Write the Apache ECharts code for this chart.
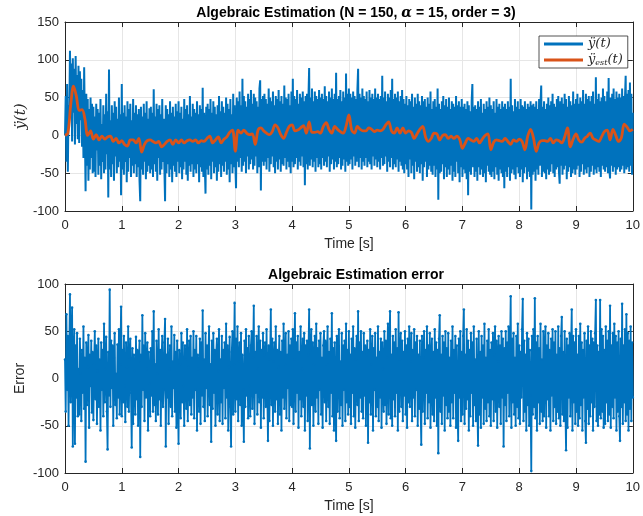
<!DOCTYPE html>
<html>
<head>
<meta charset="utf-8">
<script src="https://cdn.jsdelivr.net/npm/echarts@6/dist/echarts.min.js"></script>
<style>
  html, body { margin: 0; padding: 0; background: #fff; }
  #chart { width: 643px; height: 516px; }
</style>
</head>
<body>
<div id="chart"></div>
<script>
// Sampling of the stored signals [s]
const dtMeasured = 0.0125;
const dtEstimate = 0.05;

// Tick values
const timeTicks = [0, 1, 2, 3, 4, 5, 6, 7, 8, 9, 10];
const accelTicks = [-100, -50, 0, 50, 100, 150];
const errorTicks = [-100, -50, 0, 50, 100];

// Measured second derivative (noisy), t = 0 .. 10 s, one row per 0.25 s
const yMeasured = [
  0, 52, -35, 68, -48, 40, 20, 112, 35, 95, -8, 102, 30, 88, -12, 105, 15, 80, -5, 92,
  -10, 85, 20, 75, -15, 60, -30, 90, 10, -74, 55, -40, 48, -60, 35, -45, 50, -30, 42, -50,
  38, -48, 25, -55, 42, -20, 35, -52, 30, -40, 48, -58, 15, -35, 40, -50, 28, -45, 55, -25,
  32, -82, 87, -45, 20, -55, 40, -38, 30, -60, 45, -28, 38, -50, 22, -42, 50, -35, 28, -79,
  68, -45, 30, -52, 40, -35, 25, -62, 45, -48, 35, -30, 42, -55, 20, -40, 48, -50, 30, -38,
  40, -55, 28, -42, 35, -60, -87, 38, -45, 25, -52, 42, -35, 30, -58, 45, -48, 22, -40, 36,
  -50, 38, -45, 30, -55, 61, -38, 25, -48, 42, -60, 35, -30, 40, -52, 28, -45, 48, -35, 22,
  -42, -87, 40, -50, 35, -38, 28, -55, 45, -45, 30, -62, 38, -40, 25, -48, 42, -55, 32, -35,
  45, -50, 30, -42, 38, -58, 22, -45, 48, -35, 35, -52, 40, -60, 28, -40, 52, -48, 25, -38,
  42, -55, 35, -45, 30, -50, 45, -38, 28, -62, 40, -42, 35, -48, 63, -55, 30, -40, -77, 38,
  -45, 42, -52, 35, -40, 48, -58, 30, -35, 45, -50, 38, -42, 28, -60, 40, -48, 52, -38, 32,
  -55, 45, -40, 38, -48, 30, -35, 50, -52, 42, -45, 35, -62, 48, -38, 28, -50, 55, -42, 40,
  -38, -70, 50, -35, 45, -42, 58, -30, 40, -48, 75, -40, 52, -35, 45, -50, 38, -28, 55, -45,
  48, -38, 60, -32, 42, -45, 55, -40, 50, -28, 45, -50, 38, -42, 62, 73, -73, 48, -35, 52,
  -40, 55, -35, 48, -45, 42, -30, 62, -48, 50, -38, 45, -28, 58, -42, 40, -50, 52, -35, 48,
  -45, 60, -32, 45, -48, 52, -38, 42, -40, 66, -30, 50, -45, 48, -35, 55, -42, 40, -50, 58,
  -35, 75, -42, 52, -38, 48, -30, 60, -45, 42, -35, 55, -40, 50, -28, 58, -42, 45, -66, 52,
  -38, 55, -45, 48, 89, -40, 50, -32, 62, -42, 45, -35, 58, -48, 52, -30, 48, -42, 60, -38,
  50, -45, 55, -30, 48, -40, 65, -35, 52, -42, 45, -28, 58, -48, 50, -38, 62, -32, 48, -45,
  55, -35, 83, -42, 48, -38, 52, -30, 60, -45, 45, -40, 58, -32, 50, -48, 82, -35, 55, -40,
  62, -38, 55, -32, 50, -45, 58, -28, 52, -40, 48, -35, 60, 88, -42, 55, -30, 50, -45, 62,
  -35, 52, -40, 48, -30, 58, -42, 45, -35, 60, -38, 50, -45, 55, -28, 48, -40, 62, -32, 50,
  -42, 55, -35, 48, -45, 52, -30, 79, -40, 50, -38, 58, -28, 45, -48, 55, -35, 50, -42, 60,
  -30, 75, -45, 48, -38, 55, -42, 50, -32, 58, -48, 45, -35, 52, -40, 60, -45, 48, -50, 42,
  -38, 52, -45, 40, -55, 48, -32, 45, -50, 55, -40, 38, -58, 50, -35, 42, -48, 55, -42, 45,
  -50, 40, -38, 52, -60, 45, -42, 48, -35, 38, -55, 50, -45, 42, -40, 58, -48, 35, -52, 45,
  -40, 48, -55, 38, -45, 62, -85, 42, -50, 35, -48, 45, -38, 52, -58, 40, -42, 48, -55, 38,
  -45, 50, -52, 35, -40, 45, -60, 42, -48, 38, -55, 52, -35, 40, -50, 45, -62, 38, -42, 48,
  -55, 38, -45, 42, -50, 35, -58, 45, -79, 40, -48, 32, -52, 45, 68, -42, 38, -55, 40, -48,
  35, -60, 45, -42, 38, -52, 48, -45, 30, -55, 42, -50, 35, -62, 45, -40, 38, -48, 50, -52,
  40, -55, 35, -48, 45, -58, 30, -42, 48, -52, 38, -60, 42, -45, 35, -50, 45, -55, 38, -70,
  42, -48, 35, -55, 45, -42, 38, -60, 75, -50, 40, -45, 32, -52, 48, -58, 38, -42, 45, -50,
  35, -55, 48, -45, 40, -62, 38, -50, 45, -42, 35, -58, 42, -48, 38, -55, 45, -98, 40, -52,
  42, -48, 38, -60, 45, -45, 35, -52, 48, -40, 42, 66, -55, 38, -48, 45, -50, 35, -58, 42,
  -45, 50, -52, 40, -48, 45, -38, 55, -50, 42, -55, 38, -45, 48, -42, 52, -48, -64, 45, -40,
  50, -52, 42, -45, 55, -40, 48, -58, 38, -48, 52, -42, 45, -55, 40, -50, 58, -45, 42, -52,
  48, -45, 55, -40, 42, -55, 50, -48, 45, -38, 60, -52, 42, -45, 55, -50, 48, -42, 52, -55,
  45, -48, 52, -40, 58, -52, 42, -45, 77, -50, 48, -42, 55, -48, 45, -55, 50, -40, 62, -45,
  52, -48, 45, -42, 58, -50, 76, -45, -57, 50, -40, 55, -48, 62, -42, 48, -52, 58, -45, 50,
  -42, 55, -48, 50, -45, 62, -40, 52, -50, 48, 79, -45, 55, -42, 60, -48, 70, -40, 55, -52,
  30
];

// Algebraic estimate, t = 0 .. 10 s
const yEstimate = [
  0, 3, 40, 65, 52, 33, 34, 22, 0, 6,
  -5, 1, -6, -1, -5, -2, -1, -8, -4, -10,
  -7, -12, -14, -6, -6, -10, -4, -22, -12, -7,
  -6, -8, -10, -8, -15, -12, -8, -6, -12, -6,
  -10, -6, -10, -7, -6, -8, -6, -10, -7, -8,
  -4, -1, -10, -6, -2, -10, -5, -2, 4, 7,
  -21, 7, 3, 7, 3, 1, 2, -12, 7, 10,
  6, 3, 1, 5, 14, 10, 1, -4, 4, 12,
  14, 6, 7, 10, 13, 3, 18, 4, 4, 5,
  3, 12, 17, 8, 3, 12, 8, 5, 3, 12,
  27, 7, 3, 12, 8, 6, 6, 10, 8, 5,
  7, 6, 8, 14, 18, 6, 3, 10, 3, 10,
  3, 6, 4, -4, 2, 8, 12, -2, -8, -4,
  3, 2, -6, 0, 1, -4, -1, -4, -1, -5,
  -17, -10, -4, -6, -8, -4, -10, -5, 0, 2,
  -19, -9, -6, -7, -8, -4, -8, -12, -6, -8,
  -5, -8, -19, -1, 8, -3, -21, -10, -7, -7,
  -8, -4, -10, -6, -7, -10, -2, 10, -15, -5,
  2, -6, -9, -4, -1, 3, -4, -6, -8, -2,
  5, 7, -6, 8, 0, -8, -3, 15, 11, 6,
  8
];

// Estimation error, t = 0 .. 10 s, one row per 0.25 s
const estError = [
  20, -35, 68, -12, 45, -50, 30, 89, -25, 40, 75, -72, 18, 52, -69, 35, -20, 48, -40, 10,
  -38, 42, 5, -45, 30, -15, 55, -32, 22, -88, 38, -28, 12, 46, -52, 25, -8, 40, -36, 28,
  -44, 15, 50, -22, 35, -48, 8, 42, -30, 20, -55, 38, -12, 30, -40, 58, -25, 10, 44, -35,
  -75, 28, -18, 94, -30, 40, -10, 35, -50, 22, 48, -28, 5, -42, 36, -20, 52, -38, 15, 76,
  -40, 30, -25, 45, -8, -46, 38, 12, -30, 55, -35, 20, 42, -15, -73, 32, -48, 25, 8, -38,
  44, -22, 30, -50, 18, 40, -83, 25, -30, 67, -12, 35, -45, 48, -20, 10, 38, -55, 28, -5,
  -40, 32, -18, 50, -35, 71, -28, 15, -45, 40, 5, -38, 52, -22, 30, -50, 20, 45, -30, -12,
  38, 63, -72, 25, -20, 42, -48, 10, 35, -30, 55, -40, 18, -10, 46, -35, 28, -52, 40, -15,
  -69, 30, 15, -42, 48, -25, 38, -8, -50, 35, 20, -32, 52, -45, 12, 40, -28, 45, -38, 22,
  -20, 50, -42, 30, -12, 45, -55, 25, 10, -35, 42, -48, 38, -18, 72, -30, 20, -45, 48, -10,
  35, -40, 22, 55, -28, 15, -67, 40, -32, 48, -15, 30, -50, 25, 42, -38, 8, 52, -45, 20,
  -25, 45, -48, 30, -10, 38, -42, 58, -20, 35, -55, 12, 44, -30, -72, 28, 50, -38, 15, 80,
  -35, 42, -22, 55, -45, 18, 38, -28, 48, -50, 25, -12, -67, 40, -30, 52, -18, 32, -42, 45,
  -8, -40, 35, 50, -32, 22, 77, -48, 28, -15, 45, -38, 10, 55, -25, 40, -52, 30, -20, 48,
  -42, 25, 38, -30, 52, -15, -66, 35, -45, 20, 73, -28, 42, -50, 18, 38, -35, 55, -22, 30,
  -48, 12, 45, -38, 28, -55, 40, -20, 58, -32, 15, 48, -42, 25, -10, 50, -45, 35, -28, 42,
  -30, 52, -48, 20, 69, -35, 38, -15, 45, -52, 28, -22, 55, -40, 10, 42, -30, 48, -55, 35,
  -18, 40, -45, 25, 73, -74, 30, 52, -28, 38, -50, 15, 45, -35, 58, -20, 32, -48, 40, -12,
  48, -38, 22, -52, 35, 50, -25, 40, -45, 15, 55, -30, 28, -48, 42, -15, 69, -40, 32, -55,
  38, -22, -66, 45, -35, 28, 52, -42, 18, -28, 48, -50, 35, -12, 40, -45, 58, -25, 30, -38,
  50, -30, 25, -48, 42, -15, 55, -40, 32, -52, 20, 45, -28, 71, -45, 38, -20, 50, -35, 28,
  -42, 48, -18, 35, -50, 25, 40, -68, 30, -25, 52, -38, 15, 45, -55, 32, -12, 48, -40, 22,
  -30, 55, -45, 28, -20, 42, -52, 38, 10, -35, 50, -28, 40, -48, 22, 58, -38, 30, 71, -42,
  25, -50, 45, -22, 38, -40, 52, -15, 32, -55, 70, -35, 20, 48, -30, 40, -45, 28, -18, 50,
  -38, 35, -52, 42, -25, 55, -30, 18, 48, -45, 30, -20, 52, -40, 38, -12, 45, -50, 25, -32,
  40, -28, -70, 45, -35, 22, 50, -48, 30, -15, 55, -42, 35, -25, 48, -52, 20, 42, -38, 28,
  -45, 52, -20, 38, -50, 30, -79, 42, 67, -35, 25, -48, 45, -18, 38, -55, 50, -28, 32, -42,
  48, -35, 22, -50, 40, -25, 55, -42, 30, -15, 45, -52, 35, -30, -66, 42, -20, 50, -45, 28,
  -38, 45, 73, -48, 25, -32, 52, -22, 40, -55, 30, -40, 48, -15, 38, -50, 55, -28, 20, -45,
  42, -30, -71, 50, -38, 28, -52, 45, -20, 35, -48, 58, -32, 22, -45, 40, -25, 52, -40, 30,
  -50, 38, -22, 48, -45, 25, 55, -35, 40, -52, 18, 45, -30, 35, -48, 50, -20, 42, -72, 32,
  -28, 50, -45, 38, -15, 55, -40, 30, 87, -52, 42, -25, 48, -38, 22, -50, 45, -30, 58, -42,
  35, -48, 28, -20, 52, 84, -45, 40, -35, 25, -55, 48, -28, 42, -50, 30, -18, -98, 45, -38,
  52, -30, 85, -42, 38, -55, 45, -25, 32, -48, 58, -35, 20, -45, 50, -40, 28, 55, -52, 35,
  -22, 48, -40, 30, -55, 42, -18, 52, -45, 38, -30, 50, -48, 25, -35, 55, -42, 32, -50, 45,
  65, -38, 28, -45, 50, -30, -76, 42, -52, 35, -20, 48, -40, 30, 73, -55, 45, -25, 38, -48,
  52, -35, 25, -50, 45, -42, 58, -28, 38, -55, 30, -20, 48, -45, -68, 40, -32, 55, -48, 35,
  -40, 50, -25, 42, -55, 38, -30, 48, 83, -45, 35, -50, 28, -38, 83, -42, 52, -35, 45, -52,
  30, -48, 55, -25, 40, -45, 50, -38, 77, -52, 35, -30, 48, -42, 58, -20, 45, -55, 38, -35,
  50, -40, -66, 42, -30, 79, -48, 35, -25, 52, -45, 68, -38, 48, -55, 40, -32, 55, -45, 38,
  -20
];

const toPairs = (values, dt) => values.map((v, i) => [+(i * dt).toFixed(4), v]);

const BLUE = '#0072BD';
const ORANGE = '#D95319';
const AXIS = '#262626';
const GRID = '#e6e6e6';
const SANS = '"Liberation Sans", Arial, Helvetica, sans-serif';
const SERIF = '"DejaVu Serif", "Liberation Serif", serif';

// Main axis with labels plus a mirrored axis so the plot box is closed with inward ticks
function axisPair(kind, gridIndex, ticks, nameCfg) {
  const min = ticks[0], max = ticks[ticks.length - 1], interval = ticks[1] - ticks[0];
  const main = {
    type: 'value', gridIndex, min, max, interval,
    position: kind === 'x' ? 'bottom' : 'left',
    nameMoveOverlap: false,
    axisLine: { show: true, onZero: false, lineStyle: { color: AXIS, width: 1 } },
    axisTick: { show: true, inside: true, length: 5, lineStyle: { color: AXIS } },
    axisLabel: { color: AXIS, fontSize: 13, fontFamily: SANS, margin: kind === 'x' ? 8 : 6 },
    splitLine: { show: true, lineStyle: { color: GRID, width: 1 } }
  };
  Object.assign(main, nameCfg || {});
  const mirror = {
    type: 'value', gridIndex, min, max, interval,
    position: kind === 'x' ? 'top' : 'right',
    axisLine: { show: true, onZero: false, lineStyle: { color: AXIS, width: 1 } },
    axisTick: { show: true, inside: true, length: 5, lineStyle: { color: AXIS } },
    axisLabel: { show: false },
    splitLine: { show: false }
  };
  return [main, mirror];
}

const timeName = {
  name: 'Time [s]', nameLocation: 'middle', nameGap: 26,
  nameTextStyle: { color: AXIS, fontSize: 14, fontFamily: SANS }
};

const option = {
  animation: false,
  backgroundColor: '#fff',
  title: [
    {
      text: '{b|Algebraic Estimation (N = 150, }{a|α}{b| = 15, order = 3)}',
      left: 351, top: 1, textAlign: 'center',
      textStyle: {
        rich: {
          b: { fontWeight: 'bold', fontSize: 14, fontFamily: SANS, color: '#000' },
          a: { fontWeight: 'bold', fontStyle: 'italic', fontSize: 14, fontFamily: SERIF, color: '#000' }
        }
      }
    },
    {
      text: 'Algebraic Estimation error',
      left: 351, top: 263, textAlign: 'center',
      textStyle: { fontWeight: 'bold', fontSize: 14, fontFamily: SANS, color: '#000' }
    }
  ],
  grid: [
    { left: 65, right: 5, top: 22, height: 189 },
    { left: 65, right: 5, top: 284, height: 189 }
  ],
  xAxis: [
    ...axisPair('x', 0, timeTicks, timeName),
    ...axisPair('x', 1, timeTicks, timeName)
  ],
  yAxis: [
    ...axisPair('y', 0, accelTicks, {
      name: 'ÿ(t)', nameLocation: 'middle', nameGap: 36, nameRotate: 90,
      nameTextStyle: { color: AXIS, fontSize: 15, fontFamily: SERIF, fontStyle: 'italic' }
    }),
    ...axisPair('y', 1, errorTicks, {
      name: 'Error', nameLocation: 'middle', nameGap: 38, nameRotate: 90,
      nameTextStyle: { color: AXIS, fontSize: 14, fontFamily: SANS }
    })
  ],
  legend: {
    data: ['meas', 'est'],
    orient: 'vertical',
    left: 539, top: 36,
    padding: [1, 5, 1, 5],
    itemGap: 2,
    itemWidth: 39,
    itemHeight: 3,
    icon: 'rect',
    backgroundColor: '#fff',
    borderColor: AXIS,
    borderWidth: 0.8,
    borderRadius: 0,
    itemStyle: { borderWidth: 0 },
    textStyle: {
      color: AXIS, fontFamily: SERIF, fontStyle: 'italic', fontSize: 13, lineHeight: 14,
      rich: {
        m: { fontFamily: SERIF, fontStyle: 'italic', fontSize: 13, lineHeight: 14, color: AXIS },
        s: { fontFamily: SERIF, fontStyle: 'italic', fontSize: 8, lineHeight: 9, verticalAlign: 'bottom', color: AXIS }
      }
    },
    formatter: name => name === 'meas' ? '{m|ÿ(t)}' : '{m|ÿ}{s|est}{m|(t)}'
  },
  series: [
    {
      name: 'meas', type: 'line', xAxisIndex: 0, yAxisIndex: 0,
      data: toPairs(yMeasured, dtMeasured),
      showSymbol: false, symbol: 'none',
      itemStyle: { color: BLUE },
      lineStyle: { color: BLUE, width: 2 },
      z: 2
    },
    {
      name: 'est', type: 'line', xAxisIndex: 0, yAxisIndex: 0,
      data: toPairs(yEstimate, dtEstimate),
      showSymbol: false, symbol: 'none', smooth: 0.35,
      itemStyle: { color: ORANGE },
      lineStyle: { color: ORANGE, width: 2.8 },
      z: 3
    },
    {
      name: 'error', type: 'line', xAxisIndex: 2, yAxisIndex: 2,
      data: toPairs(estError, dtMeasured),
      symbol: 'circle', symbolSize: 2.6, showSymbol: true, showAllSymbol: true,
      itemStyle: { color: BLUE },
      lineStyle: { color: BLUE, width: 1.8 },
      z: 2
    }
  ]
};

const chart = echarts.init(document.getElementById('chart'), null, { renderer: 'canvas' });
chart.setOption(option);
</script>
</body>
</html>
